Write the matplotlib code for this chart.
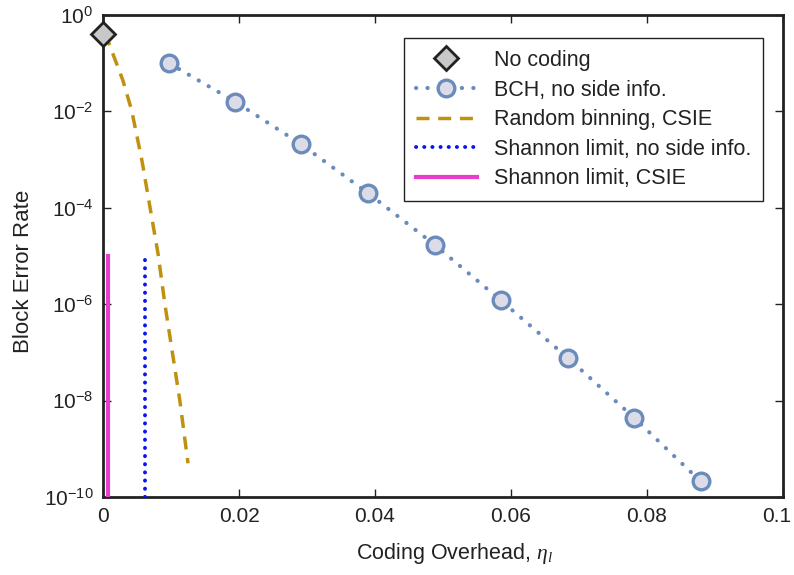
import numpy as np
import matplotlib
matplotlib.use("Agg")
import matplotlib.pyplot as plt
import matplotlib.transforms as mtransforms

plt.rcParams['font.family'] = ['Liberation Sans', 'DejaVu Sans']
plt.rcParams['mathtext.fontset'] = 'custom'
plt.rcParams['mathtext.rm'] = 'Liberation Sans'
plt.rcParams['mathtext.it'] = 'Liberation Serif:italic'

# Data
nocode_x = [0.0]
nocode_y = [0.4]

bch_x = [0.0097, 0.0194, 0.0291, 0.0390, 0.0488, 0.0585, 0.0684, 0.0781, 0.0879]
bch_y = [1.0e-1, 1.6e-2, 2.1e-3, 2.0e-4, 1.7e-5, 1.2e-6, 7.6e-8, 4.4e-9, 2.1e-10]

rb_x = [0.0, 0.0007, 0.0029, 0.0042, 0.0057, 0.0069, 0.0081, 0.0091, 0.0102, 0.0113, 0.0125]
rb_y = [0.4, 3.0e-1, 4.5e-2, 1.07e-2, 1.0e-3, 1.05e-4, 1.1e-5, 1.0e-6, 1.0e-7, 1.0e-8, 5.0e-10]

sh_noside_x = [0.0062, 0.0062]
sh_noside_y = [1e-10, 1e-5]

sh_csie_x = [0.0007, 0.0007]
sh_csie_y = [1e-10, 1e-5]

xticks = [0, 0.02, 0.04, 0.06, 0.08, 0.1]
xticklabels = ['0', '0.02', '0.04', '0.06', '0.08', '0.1']
yticks = [1e0, 1e-2, 1e-4, 1e-6, 1e-8, 1e-10]
yticklabels = [r'$10^{0}$', r'$10^{-2}$', r'$10^{-4}$', r'$10^{-6}$', r'$10^{-8}$', r'$10^{-10}$']

fig = plt.figure(figsize=(7.94, 5.75), dpi=100)
ax = fig.add_axes([103/794, 1-497/575, 680/794, 482/575])

ax.plot(nocode_x, nocode_y, linestyle='none', marker='D', markersize=12,
        markerfacecolor='#c8c8c8', markeredgecolor='#222222', markeredgewidth=2,
        label='No coding', zorder=5, clip_on=False)
ax.plot(bch_x, bch_y, linestyle=(0, (0.05, 2.7)), dash_capstyle='round', linewidth=3,
        color='#6b8cba', marker='o', markersize=12, markerfacecolor='#dcdce8',
        markeredgecolor='#6b8cba', markeredgewidth=2.4, label='BCH, no side info.', zorder=4)
ax.plot(rb_x, rb_y, linestyle=(0, (3.75, 2.5)), linewidth=2.5, color='#c0900f',
        label='Random binning, CSIE', zorder=3)
ax.plot(sh_noside_x, sh_noside_y, linestyle=(0, (0.05, 2.05)), dash_capstyle='round',
        linewidth=2.8, color='#0a14f0', label='Shannon limit, no side info.', zorder=3)
ax.plot(sh_csie_x, sh_csie_y, linestyle='-', linewidth=3, color='#e83ccc',
        label='Shannon limit, CSIE', zorder=3)

ax.set_yscale('log')
ax.set_xlim(0, 0.1)
ax.set_ylim(1e-10, 1e0)
ax.set_xticks(xticks)
ax.set_xticklabels(xticklabels)
ax.set_yticks(yticks)
ax.set_yticklabels(yticklabels)
ax.minorticks_off()
ax.tick_params(direction='in', length=6, width=1, top=True, right=True,
               labelsize=15, pad=7, colors='#222222')
for s in ax.spines.values():
    s.set_linewidth(2)
    s.set_color('#222222')

# shift last x tick label slightly left so it stays inside the figure
last = ax.get_xticklabels()[-1]
last.set_transform(last.get_transform() + mtransforms.ScaledTranslation(-6/100, 0, fig.dpi_scale_trans))

ax.set_xlabel(r'Coding Overhead, $\eta_l$', fontsize=15.5, color='#222222')
ax.set_ylabel('Block Error Rate', fontsize=16, color='#222222')
ax.xaxis.set_label_coords((454-103)/680, -(553-497)/482)
ax.yaxis.set_label_coords((23-103)/680, (497-271)/482)
ax.xaxis.label.set_va('center')
ax.yaxis.label.set_va('center')

leg = ax.legend(loc='upper right', bbox_to_anchor=(0.9706, 0.952), fontsize=15.5,
                frameon=True, fancybox=False, edgecolor='#222222', framealpha=1,
                handlelength=2.8, borderpad=0.55, labelspacing=0.4, handletextpad=0.8,
                borderaxespad=0)
leg.get_frame().set_linewidth(1)
for t in leg.get_texts():
    t.set_color('#222222')

fig.savefig('out.png', dpi=100)
